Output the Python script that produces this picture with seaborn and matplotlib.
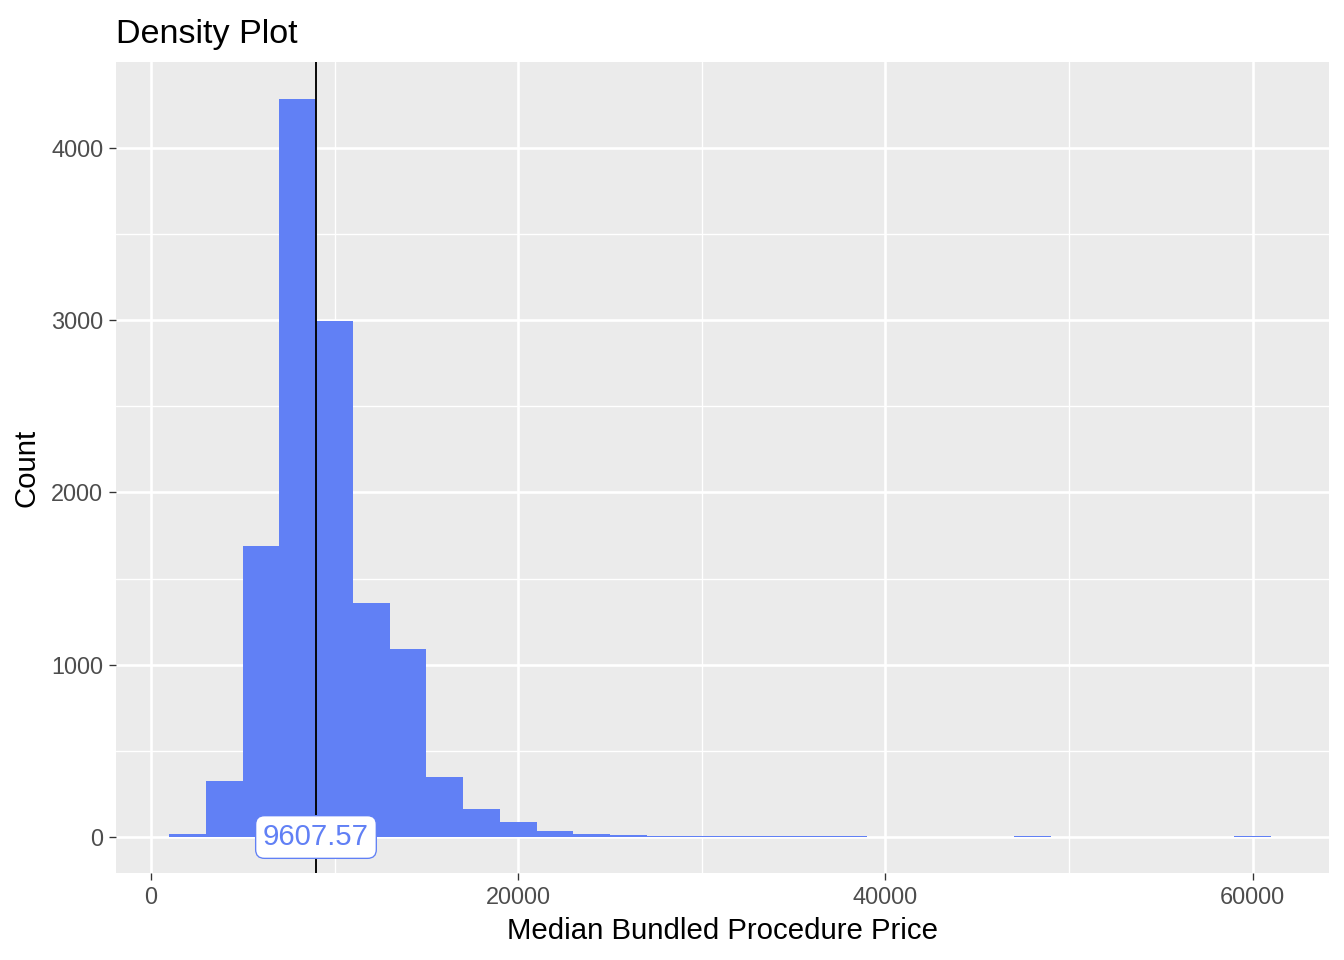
import matplotlib
matplotlib.use("Agg")
import matplotlib.pyplot as plt
import pandas as pd
import seaborn as sns
from matplotlib.ticker import MultipleLocator

# histogram bins (width 2000)
bin_centers = [2000, 4000, 6000, 8000, 10000, 12000, 14000, 16000, 18000, 20000,
               22000, 24000, 26000, 28000, 30000, 32000, 34000, 36000, 38000,
               40000, 42000, 44000, 46000, 48000, 50000, 52000, 54000, 56000,
               58000, 60000]
counts = [17, 325, 1689, 4283, 2995, 1358, 1091, 348, 163, 87,
          35, 15, 10, 6, 6, 6, 6, 6, 6,
          0, 0, 0, 0, 6, 0, 0, 0, 0,
          0, 6]
marker_x = 8990
marker_label = "9607.57"

bar_color = "#6180F5"
bin_width = 2000

sns.set_theme(style="darkgrid", rc={
    "axes.facecolor": "#EBEBEB",
    "grid.color": "white",
    "axes.edgecolor": "none",
})
plt.rcParams["font.family"] = ["Liberation Sans", "DejaVu Sans"]

df = pd.DataFrame({"price": bin_centers, "n": counts})

fig = plt.figure(figsize=(7, 5), dpi=192)
ax = fig.add_axes([0.0863, 0.0906, 0.9025, 0.8448])

sns.histplot(data=df, x="price", weights="n", binwidth=bin_width,
             binrange=(bin_centers[0] - bin_width / 2, bin_centers[-1] + bin_width / 2),
             color=bar_color, alpha=1, edgecolor="none", linewidth=0, ax=ax)

ax.axvline(marker_x, color="black", linewidth=0.7, zorder=3)
ax.text(marker_x, 0, marker_label, ha="center", va="center", fontsize=11,
        color=bar_color, zorder=4,
        bbox=dict(boxstyle="round,pad=0.25,rounding_size=0.3", fc="white",
                  ec=bar_color, lw=0.5))

ax.set_xlim(-1900, 64150)
ax.set_ylim(-209, 4499)
ax.xaxis.set_major_locator(MultipleLocator(20000))
ax.xaxis.set_minor_locator(MultipleLocator(10000))
ax.yaxis.set_major_locator(MultipleLocator(1000))
ax.yaxis.set_minor_locator(MultipleLocator(500))
ax.grid(which="major", color="white", linewidth=1.0)
ax.grid(which="minor", color="white", linewidth=0.5)
ax.set_axisbelow(True)

ax.tick_params(axis="both", which="major", labelsize=8.8, labelcolor="#4D4D4D",
               length=2.75, width=0.5, color="#333333", pad=2, bottom=True, left=True)
ax.tick_params(axis="both", which="minor", length=0)

ax.set_xlabel("Median Bundled Procedure Price", fontsize=11, color="black", labelpad=3)
ax.set_ylabel("Count", fontsize=11, color="black", labelpad=4)
ax.set_title("Density Plot", loc="left", fontsize=12.8, color="black", pad=7)

fig.savefig("out.png", dpi=192)
